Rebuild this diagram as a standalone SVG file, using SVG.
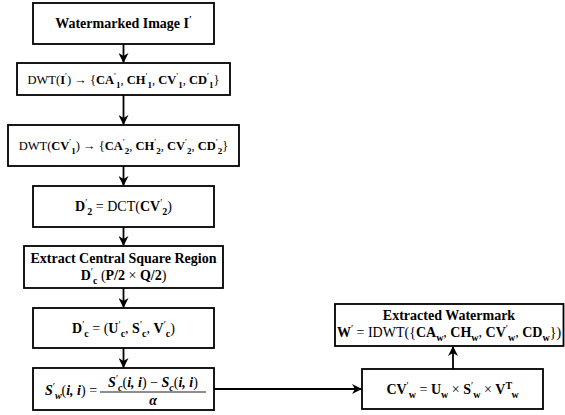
<svg xmlns="http://www.w3.org/2000/svg" width="565" height="415" viewBox="0 0 565 415">
  <style>
    .box { fill: #ffffff; stroke: #000000; stroke-width: 1.8; }
    .wire { fill: none; stroke: #000000; stroke-width: 1.8; }
    text { font-family: "Liberation Serif", "DejaVu Serif", serif; font-size: 14px; fill: #000000; text-anchor: middle; }
    .b { font-weight: bold; }
    .r { font-weight: normal; }
    .i { font-style: italic; font-weight: bold; }
    .sub { font-size: 10px; baseline-shift: -3.5px; }
    .sup { font-size: 10px; baseline-shift: 5px; }
    .small { font-size: 12.5px; }
    .small .sub, .small .sup { font-size: 9px; }
  </style>
  <defs>
    <marker id="arrow" viewBox="0 0 10 10" refX="9" refY="5" markerWidth="10" markerHeight="10" markerUnits="userSpaceOnUse" orient="auto">
      <path d="M0,0 L10,5 L0,10 L3,5 Z" fill="#000000"/>
    </marker>
  </defs>

  <rect width="565" height="415" fill="#ffffff"/>

  <!-- connectors -->
  <g id="connectors">
    <line class="wire" x1="123.5" y1="44" x2="123.5" y2="62" marker-end="url(#arrow)"/>
    <line class="wire" x1="123.5" y1="95" x2="123.5" y2="124" marker-end="url(#arrow)"/>
    <line class="wire" x1="123.5" y1="166" x2="123.5" y2="185" marker-end="url(#arrow)"/>
    <line class="wire" x1="123.5" y1="227" x2="123.5" y2="245" marker-end="url(#arrow)"/>
    <line class="wire" x1="123.5" y1="288" x2="123.5" y2="307" marker-end="url(#arrow)"/>
    <line class="wire" x1="123.5" y1="348" x2="123.5" y2="367" marker-end="url(#arrow)"/>
    <line class="wire" x1="214" y1="389" x2="361" y2="389" marker-end="url(#arrow)"/>
    <line class="wire" x1="453" y1="369" x2="453" y2="347" marker-end="url(#arrow)"/>
  </g>

  <!-- input image -->
  <g id="node-input">
    <rect class="box" x="33" y="3" width="181" height="41"/>
    <text x="123.5" y="28" class="b">Watermarked Image I<tspan class="sup">′</tspan></text>
  </g>

  <!-- first-level DWT -->
  <g id="node-dwt1">
    <rect class="box" x="17" y="63" width="213" height="32"/>
    <text x="123.5" y="84" class="small"><tspan class="r">DWT(</tspan><tspan class="b">I</tspan><tspan class="sup">′</tspan><tspan class="r">) → {</tspan><tspan class="b">CA</tspan><tspan class="sup">′</tspan><tspan class="sub b">1</tspan><tspan class="r">, </tspan><tspan class="b">CH</tspan><tspan class="sup">′</tspan><tspan class="sub b">1</tspan><tspan class="r">, </tspan><tspan class="b">CV</tspan><tspan class="sup">′</tspan><tspan class="sub b">1</tspan><tspan class="r">, </tspan><tspan class="b">CD</tspan><tspan class="sup">′</tspan><tspan class="sub b">1</tspan><tspan class="r">}</tspan></text>
  </g>

  <!-- second-level DWT -->
  <g id="node-dwt2">
    <rect class="box" x="8" y="125" width="231" height="41"/>
    <text x="123.5" y="150" class="small"><tspan class="r">DWT(</tspan><tspan class="b">CV</tspan><tspan class="sup">′</tspan><tspan class="sub b">1</tspan><tspan class="r">) → {</tspan><tspan class="b">CA</tspan><tspan class="sup">′</tspan><tspan class="sub b">2</tspan><tspan class="r">, </tspan><tspan class="b">CH</tspan><tspan class="sup">′</tspan><tspan class="sub b">2</tspan><tspan class="r">, </tspan><tspan class="b">CV</tspan><tspan class="sup">′</tspan><tspan class="sub b">2</tspan><tspan class="r">, </tspan><tspan class="b">CD</tspan><tspan class="sup">′</tspan><tspan class="sub b">2</tspan><tspan class="r">}</tspan></text>
  </g>

  <!-- DCT -->
  <g id="node-dct">
    <rect class="box" x="33" y="186" width="181" height="41"/>
    <text x="123.5" y="211"><tspan class="b">D</tspan><tspan class="sup">′</tspan><tspan class="sub b">2</tspan><tspan class="r"> = DCT(</tspan><tspan class="b">CV</tspan><tspan class="sup">′</tspan><tspan class="sub b">2</tspan><tspan class="r">)</tspan></text>
  </g>

  <!-- central region -->
  <g id="node-region">
    <rect class="box" x="24" y="246" width="199" height="42"/>
    <text x="123.5" y="263" class="b">Extract Central Square Region</text>
    <text x="123.5" y="280"><tspan class="b">D</tspan><tspan class="sup">′</tspan><tspan class="sub b">c</tspan><tspan class="r"> (</tspan><tspan class="b">P/2</tspan><tspan class="r"> × </tspan><tspan class="b">Q/2</tspan><tspan class="r">)</tspan></text>
  </g>

  <!-- SVD -->
  <g id="node-svd">
    <rect class="box" x="33" y="308" width="181" height="40"/>
    <text x="123.5" y="333"><tspan class="b">D</tspan><tspan class="sup">′</tspan><tspan class="sub b">c</tspan><tspan class="r"> = (</tspan><tspan class="b">U</tspan><tspan class="sup">′</tspan><tspan class="sub b">c</tspan><tspan class="r">, </tspan><tspan class="b">S</tspan><tspan class="sup">′</tspan><tspan class="sub b">c</tspan><tspan class="r">, </tspan><tspan class="b">V</tspan><tspan class="sup">′</tspan><tspan class="sub b">c</tspan><tspan class="r">)</tspan></text>
  </g>

  <!-- singular value recovery -->
  <g id="node-sigma">
    <rect class="box" x="33" y="368" width="181" height="42"/>
    <text x="71" y="395"><tspan class="i">S</tspan><tspan class="sup">′</tspan><tspan class="sub i">w</tspan><tspan class="r">(</tspan><tspan class="i">i, i</tspan><tspan class="r">) =</tspan></text>
    <text x="153" y="387"><tspan class="i">S</tspan><tspan class="sup">′</tspan><tspan class="sub i">c</tspan><tspan class="r">(</tspan><tspan class="i">i, i</tspan><tspan class="r">) − </tspan><tspan class="i">S</tspan><tspan class="sub i">c</tspan><tspan class="r">(</tspan><tspan class="i">i, i</tspan><tspan class="r">)</tspan></text>
    <line x1="100" y1="392" x2="206" y2="392" stroke="#000000" stroke-width="0.9"/>
    <text x="153" y="405" class="i">α</text>
  </g>

  <!-- watermark reconstruction -->
  <g id="node-recon">
    <rect class="box" x="362" y="369" width="181" height="40"/>
    <text x="452.5" y="394"><tspan class="b">CV</tspan><tspan class="sup">′</tspan><tspan class="sub b">w</tspan><tspan class="r"> = </tspan><tspan class="b">U</tspan><tspan class="sub b">w</tspan><tspan class="r"> × </tspan><tspan class="b">S</tspan><tspan class="sup">′</tspan><tspan class="sub b">w</tspan><tspan class="r"> × </tspan><tspan class="b">V</tspan><tspan class="sup b">T</tspan><tspan class="sub b">w</tspan></text>
  </g>

  <!-- extracted watermark -->
  <g id="node-output">
    <rect class="box" x="335" y="304" width="228.5" height="42"/>
    <text x="449" y="320" class="b">Extracted Watermark</text>
    <text x="449" y="337"><tspan class="b">W</tspan><tspan class="sup">′</tspan><tspan class="r"> = IDWT({</tspan><tspan class="b">CA</tspan><tspan class="sub b">w</tspan><tspan class="r">, </tspan><tspan class="b">CH</tspan><tspan class="sub b">w</tspan><tspan class="r">, </tspan><tspan class="b">CV</tspan><tspan class="sup">′</tspan><tspan class="sub b">w</tspan><tspan class="r">, </tspan><tspan class="b">CD</tspan><tspan class="sub b">w</tspan><tspan class="r">})</tspan></text>
  </g>
</svg>
